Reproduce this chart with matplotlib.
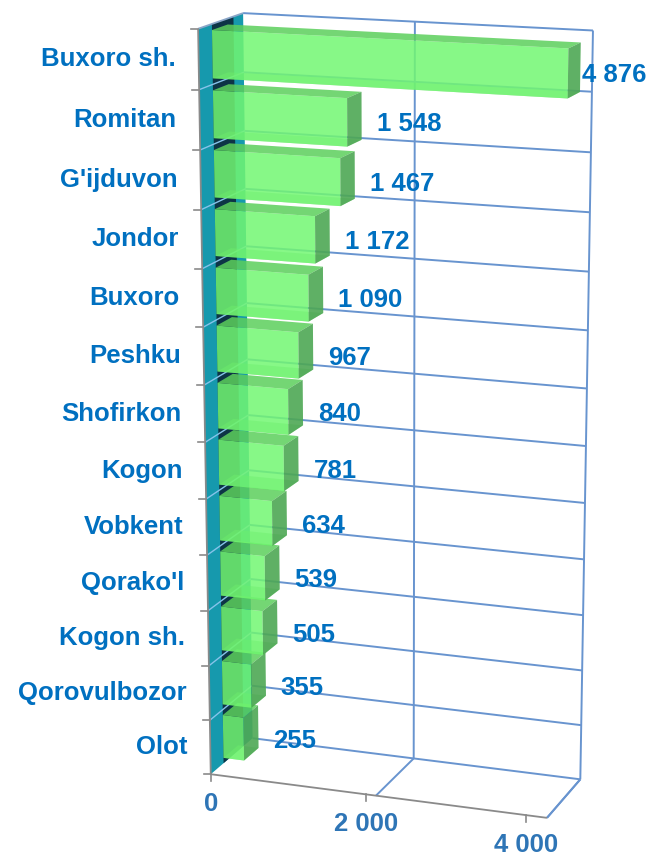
import numpy as np
import matplotlib
matplotlib.use("Agg")
import matplotlib.pyplot as plt
from matplotlib.patches import Polygon

# ---------------- data ----------------
categories = ["Buxoro sh.", "Romitan", "G'ijduvon", "Jondor", "Buxoro", "Peshku",
              "Shofirkon", "Kogon", "Vobkent", "Qorako'l", "Kogon sh.",
              "Qorovulbozor", "Olot"]
values = [4876, 1548, 1467, 1172, 1090, 967, 840, 781, 634, 539, 505, 355, 255]
x_ticks = [0, 2000, 4000]
x_tick_labels = ["0", "2 000", "4 000"]

# ---------------- layout / style ----------------
W, H = 649, 863
XMAX = 4000
N = len(categories)
GAP = 0.1            # vertical gap inside a slot
D_F, D_B = 0.30, 0.65  # bar depth range
TICK_SCALE = 0.94    # axis ticks sit slightly inside the floor's front edge
FONT = "Liberation Sans"
FS = 18.5
BLUE = "#0070C0"
AXBLUE = "#2E75B6"
GRID = "#6894cf"
WALLGRID = "#86c3ea"
TEAL = "#1699ad"
NAVY = "#0d3446"
AXGREY = "#8a8a8a"

# camera: the plot box corners (normalised value, slot, depth) -> pixel position
BOX_ANCHORS = [
    ((0.0, 0.0, 0.0), (211, 775)), ((0.5, 0.0, 0.0), (377, 795)),
    ((1.0, 0.0, 0.0), (547, 818)), ((0.5, 0.0, 1.0), (413, 758)),
    ((1.0, 0.0, 1.0), (580, 780)), ((0.0, 1.0, 0.0), (198, 29)),
    ((0.0, 1.0, 1.0), (243, 13)), ((0.5, 1.0, 1.0), (417, 22)),
    ((1.0, 1.0, 1.0), (592, 30)), ((0.0, 7 / 13, 0.0), (204, 385)),
    ((0.0, 10 / 13, 0.0), (200, 210)), ((0.0, 3 / 13, 0.0), (208, 610)),
]


def fit_camera(anchors):
    world = np.array([a[0] for a in anchors], float)
    img = np.array([a[1] for a in anchors], float)
    m = img.mean(0)
    s = np.sqrt(2) / np.mean(np.linalg.norm(img - m, axis=1))
    T = np.array([[s, 0, -s * m[0]], [0, s, -s * m[1]], [0, 0, 1]])
    ih = (T @ np.c_[img, np.ones(len(img))].T).T
    rows = []
    for (X, Y, Z), (x, y, _) in zip(world, ih):
        p = [X, Y, Z, 1.0]
        rows.append(p + [0, 0, 0, 0] + [-x * c for c in p])
        rows.append([0, 0, 0, 0] + p + [-y * c for c in p])
    _, _, Vt = np.linalg.svd(np.array(rows))
    return np.linalg.inv(T) @ Vt[-1].reshape(3, 4)


P = fit_camera(BOX_ANCHORS)


def proj(X, Y, D):
    X, Y, D = np.broadcast_arrays(np.asarray(X, float), np.asarray(Y, float),
                                  np.asarray(D, float))
    h = P @ np.vstack([X.ravel() / XMAX, Y.ravel() / N, D.ravel(),
                       np.ones(X.size)])
    return h[0] / h[2], h[1] / h[2]


fig = plt.figure(figsize=(W / 100, H / 100), dpi=100)
ax = fig.add_axes([0, 0, 1, 1])
ax.set_xlim(0, W)
ax.set_ylim(H, 0)
ax.axis("off")


def face(pts, **kw):
    X, Y, D = zip(*pts)
    xs, ys = proj(X, Y, D)
    ax.add_patch(Polygon(np.c_[xs, ys], closed=True, **kw))


def seg(p, q, **kw):
    xs, ys = proj([p[0], q[0]], [p[1], q[1]], [p[2], q[2]])
    ax.plot(xs, ys, solid_capstyle="butt", **kw)


# ---- back wall gridlines ----
for k in range(N + 1):
    seg((0, k, 1), (XMAX, k, 1), color=GRID, lw=1.4, zorder=1)
for xv in x_ticks[1:]:
    seg((xv, 0, 1), (xv, N, 1), color=GRID, lw=1.4, zorder=1)
    # floor lines
    seg((xv, 0, 0), (xv, 0, 1), color=GRID, lw=1.4, zorder=1)

# ---- left wall ----
face([(0, 0, 0), (0, N, 0), (0, N, 1), (0, 0, 1)], facecolor=TEAL,
     edgecolor="none", zorder=2)
face([(0, 0, D_F), (0, N, D_F), (0, N, D_B + 0.13), (0, 0, D_B + 0.13)],
     facecolor=NAVY, edgecolor="none", zorder=2)
for k in range(1, N):
    seg((0, k, 0), (0, k, 1), color=WALLGRID, lw=1.0, zorder=2.5)
seg((0, N, 0), (0, N, 1), color="#8aa6c8", lw=1.3, zorder=2.5)

# ---- bars ----
for k, (cat, v) in enumerate(zip(categories, values)):
    slot = N - 1 - k
    y0, y1 = slot + GAP, slot + 1 - GAP
    vc = min(v, XMAX)
    z = 3 + slot * 0.01
    # bottom face (seen through the translucent front)
    face([(0, y0, D_F), (vc, y0, D_F), (vc, y0, D_B), (0, y0, D_B)],
         facecolor="#4fc24f", alpha=0.45, edgecolor="none", zorder=z)
    # front face
    face([(0, y0, D_F), (vc, y0, D_F), (vc, y1, D_F), (0, y1, D_F)],
         facecolor="#72f772", alpha=0.85, edgecolor="none", zorder=z + 0.001)
    # top face
    face([(0, y1, D_F), (vc, y1, D_F), (vc, y1, D_B), (0, y1, D_B)],
         facecolor="#5ccf5c", alpha=0.85, edgecolor="none", zorder=z + 0.002)
    # right side face
    face([(vc, y0, D_F), (vc, y0, D_B), (vc, y1, D_B), (vc, y1, D_F)],
         facecolor="#4ea854", alpha=0.9, edgecolor="none", zorder=z + 0.003)

# ---- axis lines ----
seg((0, 0, 0), (0, N, 0), color=AXGREY, lw=1.3, zorder=6)
seg((0, 0, 0), (XMAX, 0, 0), color=AXGREY, lw=1.3, zorder=6)
seg((XMAX, 0, 0), (XMAX, 0, 1), color=GRID, lw=1.4, zorder=1)
for k in range(N + 1):
    x, y = proj(0, k, 0)
    ax.plot([x[0] - 7, x[0]], [y[0], y[0]], color=AXGREY, lw=1.2, zorder=6)
for xv, lab in zip(x_ticks, x_tick_labels):
    x, y = proj(xv * TICK_SCALE, 0, 0)
    ax.plot([x[0], x[0]], [y[0], y[0] + 7], color=AXGREY, lw=1.2, zorder=6)
    ax.text(x[0], y[0] + 30, lab, ha="center", va="center", fontsize=FS,
            fontweight="bold", color=AXBLUE, family=FONT, zorder=7)

# ---- category labels ----
for k, cat in enumerate(categories):
    slot = N - 1 - k
    x, y = proj(0, slot + 0.5, 0)
    ax.text(x[0] - 23, y[0], cat, ha="right", va="center", fontsize=FS,
            fontweight="bold", color=BLUE, family=FONT, zorder=7)

# ---- value labels ----
fig.canvas.draw()
renderer = fig.canvas.get_renderer()
for k, v in enumerate(values):
    slot = N - 1 - k
    vc = min(v, XMAX)
    xe, _ = proj(vc, slot + 0.5, D_B)
    _, ye = proj(vc, slot + 0.5, D_F)
    t = ax.text(xe[0] + 15, ye[0] + 2, f"{v:,}".replace(",", " "), ha="left",
                va="center", fontsize=FS, fontweight="bold", color=BLUE,
                family=FONT, zorder=7)
    bb = t.get_window_extent(renderer)
    if bb.x1 > W - 3:
        t.set_x(xe[0] + 15 - (bb.x1 - (W - 3)))

fig.savefig("out.png", dpi=100)
